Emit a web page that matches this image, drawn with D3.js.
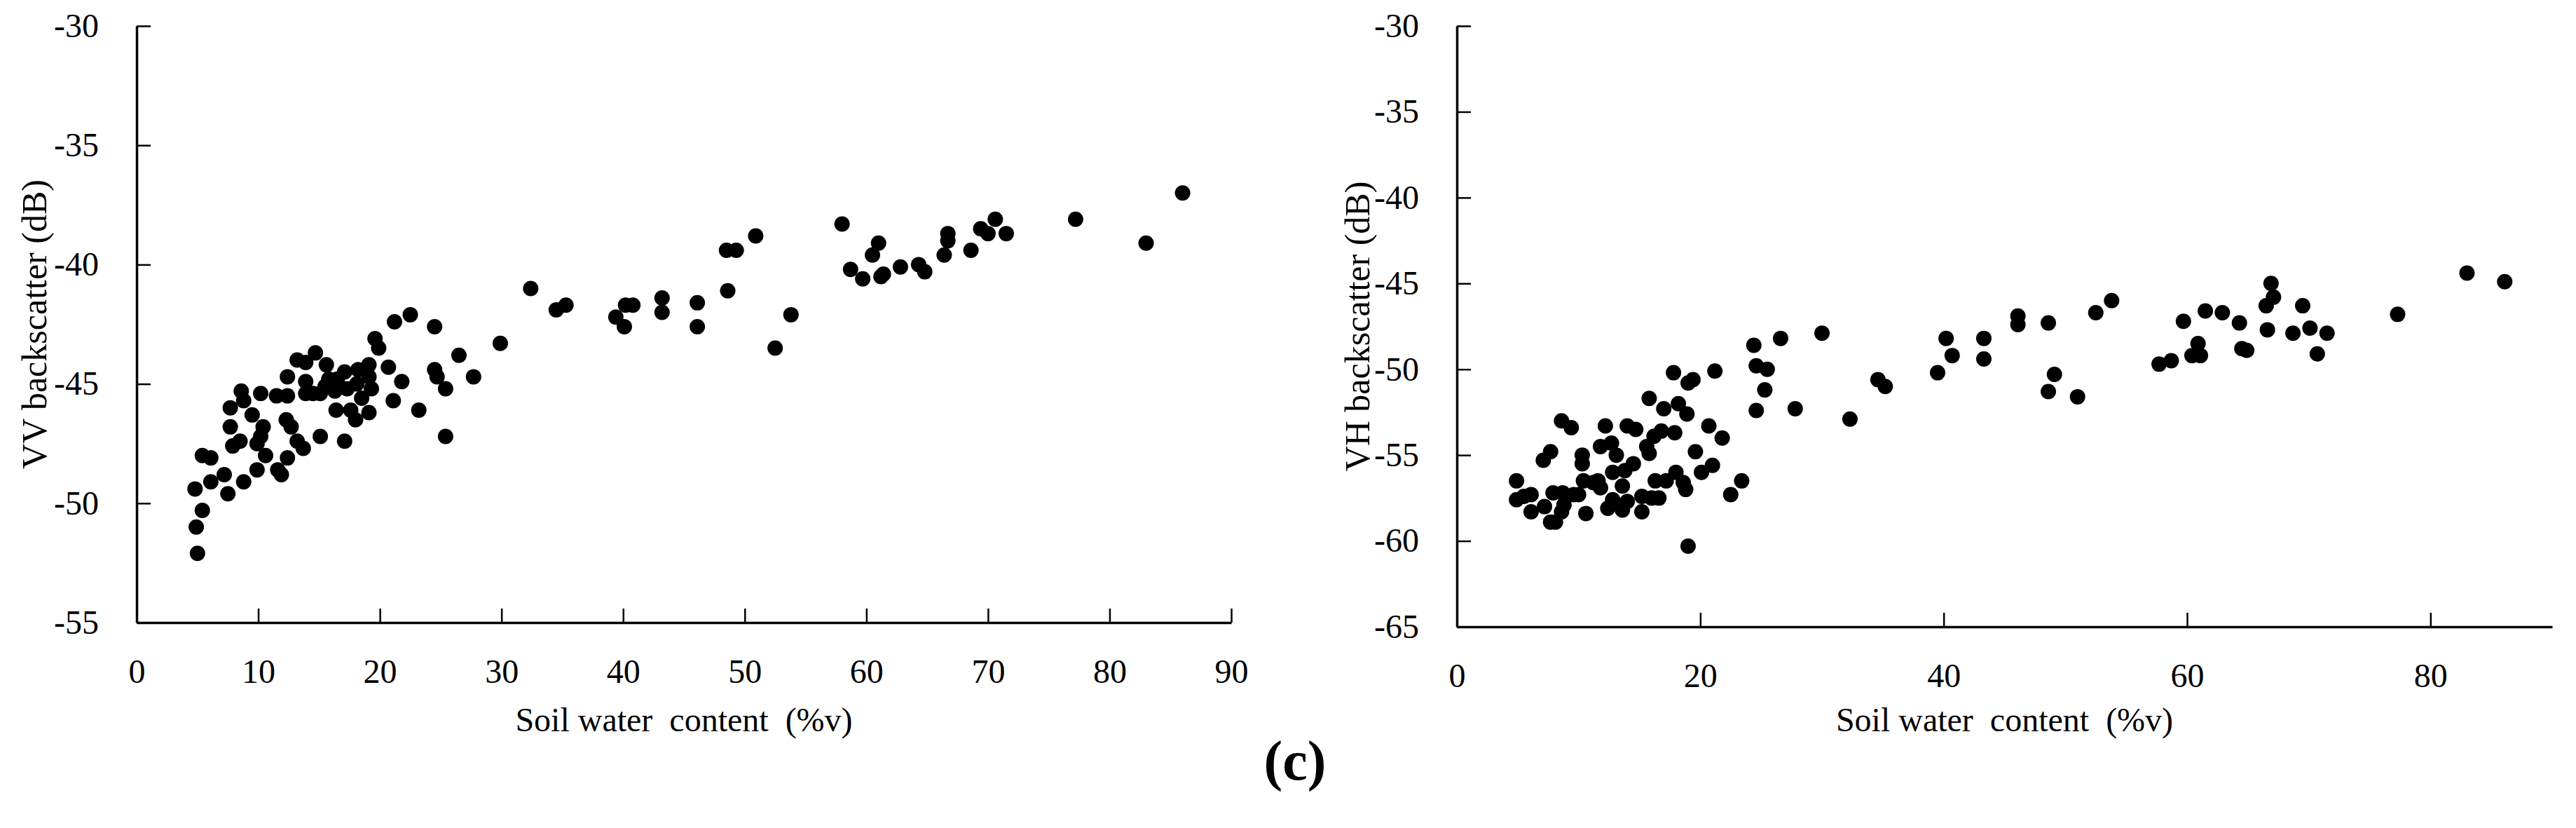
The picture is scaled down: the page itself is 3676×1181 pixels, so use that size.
<!DOCTYPE html>
<html>
<head>
<meta charset="utf-8">
<script src="https://cdn.jsdelivr.net/npm/d3@7"></script>
<style>
  html, body { margin: 0; padding: 0; background: #fff; }
</style>
</head>
<body>
<svg id="chart"></svg>
<script>
// Влажность почвы (%v) и обратное рассеяние VV (dB)
const vvMoisture = [
  5.0, 4.9, 5.4, 4.8, 6.1, 7.2, 7.5, 5.4, 6.1, 8.8, 9.9, 10.6, 11.6, 11.9, 12.4, 7.9, 8.5, 9.9, 10.2,
  13.2, 13.7, 15.1, 17.1, 7.7, 10.4, 12.3, 12.7, 7.7, 9.5, 8.6, 8.8, 10.2, 11.5, 12.4, 12.4, 13.2,
  13.9, 14.7, 13.9, 13.9, 15.1, 15.6, 15.8, 16.3, 17.1, 17.3, 18.2, 19.1, 19.1, 19.3, 18.5, 16.4,
  17.6, 18.0, 19.1, 19.6, 19.9, 20.7, 21.8, 21.1, 21.2, 22.5, 24.5, 24.5, 24.7, 25.4, 23.2, 25.4,
  26.5, 27.7, 29.9, 32.4, 34.5, 15.5, 18.1, 16.5, 14.5,
  35.3, 39.4, 40.2, 40.8, 40.1, 43.2, 43.2, 46.1, 46.1, 48.6, 48.5, 49.3, 50.9, 52.5, 53.8, 58.0,
  58.7, 59.7, 60.5, 61.0, 61.2, 61.4, 62.8, 64.3, 64.8, 66.4, 66.7, 66.7, 68.6, 69.4, 70.0, 70.6,
  71.5, 77.2, 83.0, 86.0
];
const vvBackscatter = [
  -52.1, -51.0, -50.3, -49.4, -49.1, -48.8, -49.6, -48.0, -48.1, -49.1, -48.6, -48.0, -48.6, -48.8,
  -48.1, -47.6, -47.4, -47.5, -47.2, -47.4, -47.7, -47.2, -47.4, -46.8, -46.8, -46.5, -46.8, -46.0,
  -46.3, -45.3, -45.7, -45.4, -45.5, -45.5, -44.7, -44.0, -44.1, -43.7, -44.9, -45.4, -45.4, -44.2,
  -44.8, -45.3, -44.5, -45.2, -44.4, -44.2, -44.7, -45.2, -45.6, -46.1, -46.1, -46.5, -46.2, -43.1,
  -43.5, -44.3, -44.9, -45.7, -42.4, -42.1, -42.6, -44.4, -44.7, -45.2, -46.1, -47.2, -43.8, -44.7,
  -43.3, -41.0, -41.9, -45.1, -45.0, -44.8, -45.4,
  -41.7, -42.2, -41.7, -41.7, -42.6, -41.4, -42.0, -41.6, -42.6, -41.1, -39.4, -39.4, -38.8, -43.5,
  -42.1, -38.3, -40.2, -40.6, -39.6, -39.1, -40.5, -40.4, -40.1, -40.0, -40.3, -39.6, -38.7, -39.0,
  -39.4, -38.5, -38.7, -38.1, -38.7, -38.1, -39.1, -37.0
];

// Влажность почвы (%v) и обратное рассеяние VH (dB)
const vhMoisture = [
  19.0, 4.9, 4.9, 5.5, 6.1, 6.1, 7.2, 7.7, 8.1, 7.9, 8.7, 8.8, 8.6, 7.1, 7.7, 8.6, 9.4, 10.3, 10.3,
  10.4, 10.0, 10.6, 12.2, 11.8, 12.7, 13.1, 11.6, 11.8, 12.4, 12.8, 12.8, 13.6, 14.0, 13.8, 14.5,
  14.0, 14.7, 15.2, 15.2, 16.0, 16.6, 15.6, 15.8, 16.2, 16.8, 17.9, 16.3, 17.2, 18.0, 18.6, 18.8,
  20.1, 21.0, 19.6, 20.7, 21.8, 17.0, 18.2, 18.9, 15.8, 17.8, 19.0, 19.4, 21.2, 22.5, 23.4, 24.6,
  24.6, 25.5, 25.3, 24.4, 26.6, 30.0, 27.8, 32.3, 34.6, 35.2, 9.6, 11.2, 13.6,
  39.5, 40.2, 40.7, 43.3, 43.3, 46.1, 46.1, 48.6, 49.1, 48.6, 51.0, 52.5, 53.8, 57.7, 58.7, 59.7,
  60.4, 60.9, 61.1, 61.5, 62.9, 64.3, 64.5, 64.9, 66.6, 66.5, 67.1, 66.9, 68.7, 69.5, 70.1, 70.7,
  71.5, 77.3, 83.0, 86.1
];
const vhBackscatter = [
  -60.3, -56.5, -57.6, -57.4, -57.3, -58.3, -58.0, -58.9, -58.9, -57.2, -57.2, -57.9, -58.3, -55.3,
  -54.8, -53.0, -53.4, -55.0, -55.5, -56.5, -57.3, -58.4, -53.3, -54.5, -54.3, -55.0, -56.5, -56.9,
  -58.1, -56.0, -57.6, -56.8, -57.7, -55.9, -55.5, -53.3, -53.5, -58.3, -57.4, -57.5, -57.5, -54.5,
  -54.9, -53.9, -53.6, -53.7, -56.5, -56.5, -56.0, -56.6, -57.0, -56.0, -55.6, -54.8, -53.3, -54.0,
  -52.3, -52.0, -52.6, -51.7, -50.2, -50.8, -50.6, -50.1, -57.3, -56.5, -52.4, -49.8, -50.0, -51.2,
  -48.6, -48.2, -47.9, -52.3, -52.9, -50.6, -51.0, -57.3, -56.6, -58.2,
  -50.2, -48.2, -49.2, -48.2, -49.4, -46.9, -47.4, -47.3, -50.3, -51.3, -51.6, -46.7, -46.0, -49.7,
  -49.5, -47.2, -49.2, -48.5, -49.2, -46.6, -46.7, -47.3, -48.8, -48.9, -47.7, -46.3, -45.8, -45.0,
  -47.9, -46.3, -47.6, -49.1, -47.9, -46.8, -44.4, -44.9
];

// Подписи делений
const vvXTicks = [0, 10, 20, 30, 40, 50, 60, 70, 80, 90];
const vvYTicks = [-30, -35, -40, -45, -50, -55];
const vhXTicks = [0, 20, 40, 60, 80];
const vhYTicks = [-30, -35, -40, -45, -50, -55, -60, -65];

const xTitle = "Soil water  content  (%v)";
const vvTitle = "VV backscatter (dB)";
const vhTitle = "VH backscatter (dB)";
const panelLabel = "(c)";

const FONT = "'Liberation Serif', 'Times New Roman', serif";

const width = 3676;
const height = 1181;
const svg = d3.select("#chart")
    .attr("width", width)
    .attr("height", height);

svg.append("rect").attr("width", width).attr("height", height).attr("fill", "#fff");

// Рисуем одну панель диаграммы рассеяния
function drawPanel(cfg) {
    const x = d3.scaleLinear().domain(cfg.xDomain).range([cfg.left, cfg.right]);
    const y = d3.scaleLinear().domain(cfg.yDomain).range([cfg.bottom, cfg.top]);
    const g = svg.append("g");

    // Точки
    g.selectAll("circle")
        .data(cfg.xs)
        .join("circle")
        .attr("cx", d => x(d))
        .attr("cy", (d, i) => y(cfg.ys[i]))
        .attr("r", 11)
        .attr("fill", "#000");

    // Ось X (деления внутрь)
    const xAxis = g.append("g")
        .attr("transform", `translate(0,${cfg.bottom})`)
        .call(d3.axisBottom(x).tickValues(cfg.xTicks).tickFormat(d => String(d))
            .tickSizeInner(-20).tickSizeOuter(0).tickPadding(52));

    // Ось Y (деления внутрь), минус — обычный дефис
    const yAxis = g.append("g")
        .attr("transform", `translate(${cfg.left},0)`)
        .call(d3.axisLeft(y).tickValues(cfg.yTicks).tickFormat(d => String(d))
            .tickSizeInner(-20).tickSizeOuter(0).tickPadding(54));

    [xAxis, yAxis].forEach(a => {
        a.attr("font-family", FONT).attr("font-size", 48);
        a.select(".domain").attr("stroke", "#000").attr("stroke-width", 3.5);
        a.selectAll(".tick line").attr("stroke", "#000").attr("stroke-width", 2.5);
        a.selectAll(".tick text").attr("fill", "#000").attr("font-family", FONT);
    });

    // Подписи осей
    g.append("text")
        .attr("x", (cfg.left + cfg.right) / 2)
        .attr("y", 1043)
        .attr("text-anchor", "middle")
        .attr("font-family", FONT)
        .attr("font-size", 48)
        .style("white-space", "pre")
        .text(xTitle);

    g.append("text")
        .attr("transform", `translate(${cfg.titleX},${(cfg.top + cfg.bottom) / 2}) rotate(-90)`)
        .attr("text-anchor", "middle")
        .attr("font-family", FONT)
        .attr("font-size", 50)
        .text(cfg.yTitle);
}

drawPanel({
    xs: vvMoisture, ys: vvBackscatter,
    xDomain: [0, 90], yDomain: [-55, -30],
    xTicks: vvXTicks, yTicks: vvYTicks,
    left: 195, right: 1757, top: 37, bottom: 888,
    titleX: 66, yTitle: vvTitle
});

drawPanel({
    xs: vhMoisture, ys: vhBackscatter,
    xDomain: [0, 90], yDomain: [-65, -30],
    xTicks: vhXTicks, yTicks: vhYTicks,
    left: 2079, right: 3642, top: 37, bottom: 894,
    titleX: 1954, yTitle: vhTitle
});

// Подпись панели
svg.append("text")
    .attr("x", 1848)
    .attr("y", 1112)
    .attr("text-anchor", "middle")
    .attr("font-family", FONT)
    .attr("font-size", 80)
    .attr("font-weight", "bold")
    .text(panelLabel);
</script>
</body>
</html>
